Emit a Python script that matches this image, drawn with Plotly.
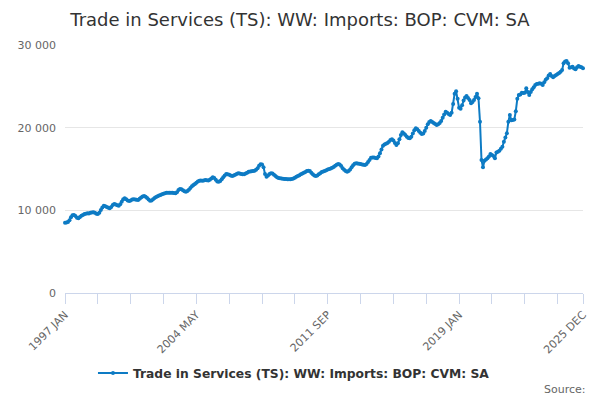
import plotly.graph_objects as go

TITLE = "Trade in Services (TS): WW: Imports: BOP: CVM: SA"
SERIES_NAME = "Trade in Services (TS): WW: Imports: BOP: CVM: SA"

MONTHS = ["JAN", "FEB", "MAR", "APR", "MAY", "JUN",
          "JUL", "AUG", "SEP", "OCT", "NOV", "DEC"]
YEARS = list(range(1997, 2026))

# monthly values (GBP million)
values_1997_2004 = [
    8500, 8520, 8600, 8800, 9150, 9400, 9450, 9300, 9100, 9050, 9200, 9350,
    9450, 9550, 9600, 9650, 9620, 9700, 9750, 9780, 9700, 9580, 9560, 9700,
    10050, 10350, 10550, 10500, 10400, 10300, 10250, 10400, 10650, 10780, 10700, 10600,
    10560, 10750, 11050, 11350, 11450, 11350, 11200, 11130, 11200, 11300, 11330, 11300,
    11280, 11250, 11400, 11550, 11680, 11730, 11650, 11500, 11300, 11170, 11200, 11350,
    11500, 11600, 11700, 11780, 11860, 11950, 12020, 12080, 12130, 12140, 12120, 12130,
    12120, 12100, 12060, 12200, 12450, 12580, 12540, 12420, 12300, 12250, 12350, 12500,
    12700, 12900, 13050, 13200, 13350, 13500, 13580, 13600, 13570, 13620, 13670, 13650,
]
values_2005_2012 = [
    13620, 13700, 13850, 14000, 13900, 13700, 13500, 13460, 13550, 13750, 14000, 14200,
    14400, 14350, 14300, 14200, 14150, 14200, 14300, 14400, 14480, 14450, 14400, 14360,
    14360, 14450, 14550, 14680, 14700, 14720, 14760, 14800, 14900, 15100, 15400, 15570,
    15550, 15200, 14400, 14070, 14200, 14400, 14480, 14450, 14300, 14150, 14000, 13900,
    13880, 13850, 13820, 13800, 13780, 13760, 13750, 13750, 13780, 13850, 13950, 14050,
    14150, 14250, 14350, 14450, 14550, 14650, 14750, 14800, 14750, 14550, 14350, 14200,
    14150, 14200, 14350, 14500, 14650, 14700, 14750, 14850, 14950, 15000, 15050, 15150,
    15250, 15400, 15500, 15600, 15550, 15350, 15100, 14900, 14750, 14680, 14750, 14950,
]
values_2013_2019 = [
    15200, 15450, 15650, 15700, 15680, 15650, 15600, 15550, 15500, 15480, 15600, 15850,
    16100, 16350, 16400, 16380, 16320, 16300, 16500, 16900, 17350, 17800, 17950, 18050,
    18150, 18300, 18500, 18590, 18450, 18150, 17900, 18100, 18600, 19100, 19440, 19300,
    19100, 18900, 18750, 18710, 18900, 19300, 19700, 19920, 19800, 19600, 19400, 19230,
    19300, 19600, 20000, 20400, 20700, 20800, 20700, 20550, 20450, 20320, 20400, 20550,
    20800, 21200, 21600, 21930, 21800, 21650, 21530, 21800, 22860, 24100, 24400, 23500,
    22400, 22300, 22700, 23300, 23650, 23830, 23600, 23350, 22950, 23100, 23350, 23700,
]
values_2020_2025 = [
    24100, 23550, 20720, 16090, 15200, 16000, 16150, 16300, 16500, 16820, 16700, 16570,
    16290, 17000, 17100, 17210, 17450, 17700, 18300, 18800, 19320, 20720, 21530, 20900,
    20930, 21000, 22000, 23500, 23950, 24000, 24230, 24200, 24230, 24760, 24300, 23950,
    24300, 24640, 24900, 25150, 25280, 25300, 25370, 25300, 25160, 25500, 25800, 25970,
    26300, 26490, 26250, 26090, 26250, 26370, 26500, 26600, 26750, 26970, 27800, 28000,
    28060, 27800, 27250, 27300, 27380, 27150, 27060, 27300, 27460, 27380, 27300, 27180,
]

values = values_1997_2004 + values_2005_2012 + values_2013_2019 + values_2020_2025
labels = [f"{y} {m}" for y in YEARS for m in MONTHS]
idx = list(range(len(labels)))

Y_TICKS = [0, 10000, 20000, 30000]
X_LABEL_STEP = 88
X_TICK_STEP = 22

LINE = "#0d7bc4"
FONT = "DejaVu Sans"

major = list(range(0, len(labels), X_LABEL_STEP)) + [len(labels) - 1]

fig = go.Figure()
fig.add_trace(
    go.Scatter(
        x=idx,
        y=values,
        customdata=labels,
        mode="lines+markers",
        name=SERIES_NAME,
        line=dict(color=LINE, width=2),
        marker=dict(color=LINE, size=4),
        cliponaxis=False,
        hovertemplate="%{customdata}: %{y}<extra></extra>",
    )
)

fig.update_layout(
    width=600,
    height=400,
    paper_bgcolor="white",
    plot_bgcolor="white",
    separators=". ",
    font=dict(family=FONT, color="#666666", size=11),
    margin=dict(l=65, r=17, t=45, b=107, autoexpand=False),
    title=dict(
        text=TITLE,
        x=0.5,
        xanchor="center",
        y=0.952,
        yanchor="middle",
        font=dict(family=FONT, size=18, color="#333333"),
    ),
    showlegend=True,
    legend=dict(
        orientation="h",
        x=0.054,
        xanchor="left",
        y=-0.323,
        yanchor="middle",
        font=dict(family=FONT, size=12.3, color="#333333", weight="bold"),
    ),
    annotations=[
        dict(
            text="Source:",
            xref="paper",
            yref="paper",
            x=1.01,
            y=-0.391,
            xanchor="right",
            yanchor="middle",
            showarrow=False,
            font=dict(family=FONT, size=11, color="#666666"),
        )
    ],
)

fig.update_xaxes(
    range=[0, len(labels) - 1],
    automargin=False,
    tickmode="array",
    tickvals=major,
    ticktext=[labels[i] for i in major],
    tickangle=-45,
    ticks="outside",
    ticklen=10,
    tickcolor="#ccd6eb",
    showline=True,
    linecolor="#ccd6eb",
    showgrid=False,
    zeroline=False,
    minor=dict(
        tickmode="array",
        tickvals=list(range(0, len(labels), X_TICK_STEP)),
        ticks="outside",
        ticklen=10,
        tickcolor="#ccd6eb",
        showgrid=False,
    ),
)
fig.update_yaxes(
    range=[0, 30000],
    automargin=False,
    tickmode="array",
    tickvals=Y_TICKS,
    tickformat=",d",
    showgrid=True,
    gridcolor="#e6e6e6",
    zeroline=False,
    ticks="",
    ticklabelstandoff=8,
)

# the page's default 8px body margin would push the chart off the window
fig.write_html(
    "out.html",
    config={"displayModeBar": False},
    post_script="document.body.style.margin = '0';",
)
